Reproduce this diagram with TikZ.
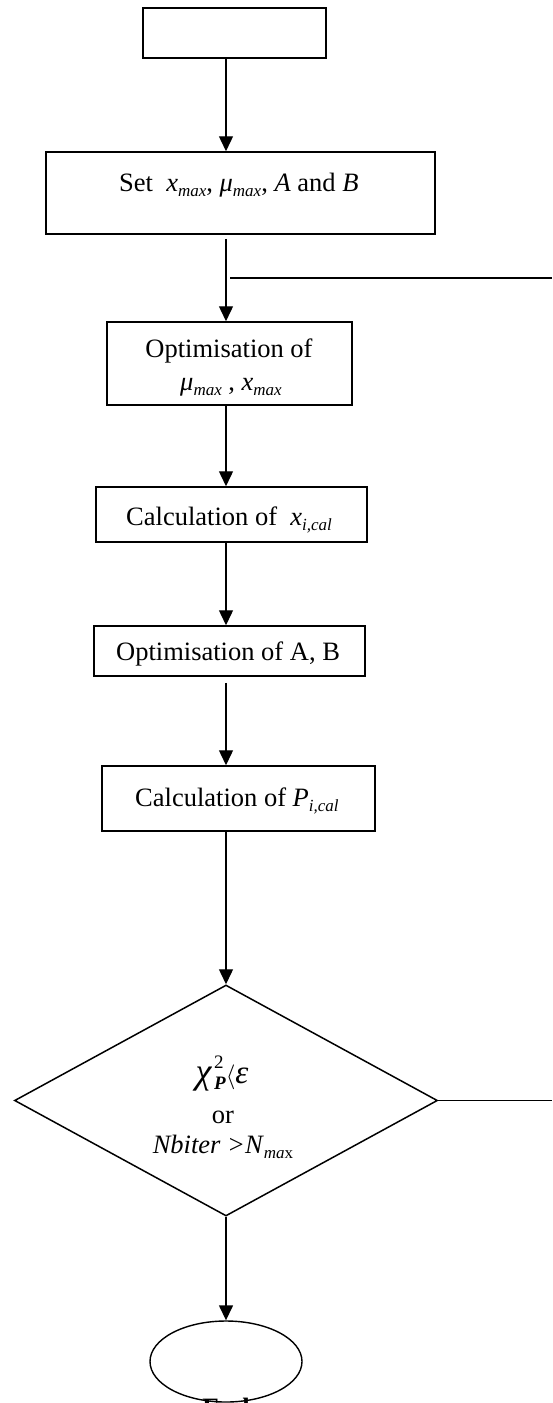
\documentclass[tikz,border=0pt]{standalone}
\usepackage{fontspec}
\setmainfont{Liberation Serif}
\usetikzlibrary{shapes.geometric,arrows.meta}
\newcommand\lo[1]{\raisebox{-0.22em}{\fontsize{17}{17}\selectfont #1}}
\begin{document}
\begin{tikzpicture}[x=1pt,y=-1pt,
  box/.style={draw,line width=1.5pt,rectangle,inner sep=0pt},
  lbl/.style={inner sep=0pt,font=\fontsize{26.5}{30}\selectfont},
  conn/.style={line width=1.4pt},
  arr/.style={conn,-{Triangle[length=15pt,width=14pt]}}]
\useasboundingbox (0,0) rectangle (552,1403);
\coordinate (ax) at (226,0);
% boxes
\node[box,minimum width=183pt,minimum height=50pt] (start) at (234.5,33) {};
\node[box,minimum width=389pt,minimum height=82pt] (set) at (240.5,193) {};
\node[box,minimum width=245pt,minimum height=83pt] (opt) at (229.5,363.5) {};
\node[box,minimum width=271pt,minimum height=55pt] (calcx) at (231.5,514.5) {};
\node[box,minimum width=271pt,minimum height=50pt] (ab) at (229.5,651) {};
\node[box,minimum width=273pt,minimum height=65pt] (calcp) at (238.5,798.5) {};
\node[draw,line width=1.5pt,diamond,inner sep=0pt,minimum width=423pt,minimum height=231pt] (dec) at (226,1100.5) {};
\node[draw,line width=1.4pt,ellipse,inner sep=0pt,minimum width=152pt,minimum height=81pt] (end) at (226,1361.5) {};
% texts
\node[lbl,anchor=base west] (tset) at (119,191) {Set\ \ \textit{x}\lo{\itshape max}, \textit{μ}\lo{\itshape max}, \textit{A} and \textit{B}};
\node[lbl,anchor=base] (topt1) at (229,357) {Optimisation of};
\node[lbl,anchor=base west] (topt2) at (180,390) {\textit{μ}\lo{\itshape max} , \textit{x}\lo{\itshape max}};
\node[lbl,anchor=base west] (tcalcx) at (126,525) {Calculation of\ \ \textit{x}\lo{\itshape i,cal}};
\node[lbl,anchor=base west] (tab) at (116,660) {Optimisation of A, B};
\node[lbl,anchor=base west] (tcalcp) at (135,806) {Calculation of \textit{P}\lo{\itshape i,cal}};
\node[lbl,anchor=base] (tchi) at (222,1083) {{\fontsize{36}{36}\selectfont\textit{χ}}\kern2pt\rlap{\raisebox{0.55em}{\fontsize{19}{19}\selectfont 2}}\raisebox{-0.25em}{\fontsize{19}{19}\selectfont\bfseries\itshape P}{\fontsize{33}{33}\selectfont$\langle$\textit{ε}}};
\node[lbl,anchor=base] (tor) at (223,1123) {or};
\node[lbl,anchor=base] (tnb) at (223,1153) {\textit{Nbiter >N}\lo{\itshape ma\upshape x}};
\node[lbl,anchor=base,font=\fontsize{26.5}{30}\selectfont\bfseries] (tend) at (226,1416) {End};
% connectors
\draw[arr] (start.south -| ax) -- (set.north -| ax);
\draw[arr,shorten <=4pt] (set.south -| ax) -- (opt.north -| ax);
\coordinate (loopL) at (230,278);
\coordinate (loopR) at (552,278);
\draw[conn] (loopL) -- (loopR);
\draw[arr] (opt.south -| ax) -- (calcx.north -| ax);
\draw[arr] (calcx.south -| ax) -- (ab.north -| ax);
\draw[arr,shorten <=6pt] (ab.south -| ax) -- (calcp.north -| ax);
\draw[arr] (calcp.south -| ax) -- (dec.north);
\draw[arr] (dec.south) -- (end.north);
\coordinate (fbR) at (552,1100.5);
\draw[conn] (dec.east) -- (fbR);
\end{tikzpicture}
\end{document}
